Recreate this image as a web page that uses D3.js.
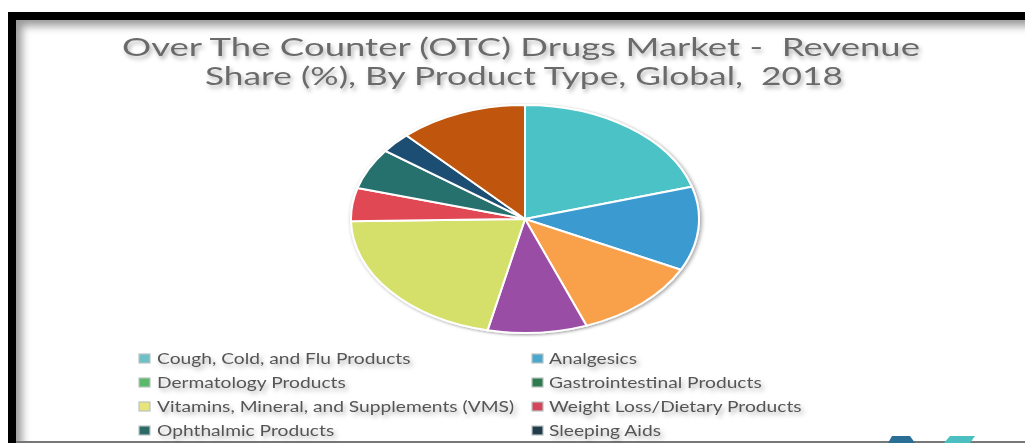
<!DOCTYPE html>
<html><head><meta charset="utf-8">
<script src="https://cdn.jsdelivr.net/npm/d3@7"></script>
<style>
html,body{margin:0;padding:0;background:#fff;}
svg{display:block;}
text{white-space:pre;}
</style></head>
<body>
<script>
const titleLines = ["Over The Counter (OTC) Drugs Market -  Revenue", "Share (%), By Product Type, Global,  2018"];
const categories = ["Cough, Cold, and Flu Products","Analgesics","Dermatology Products","Gastrointestinal Products","Vitamins, Mineral, and Supplements (VMS)","Weight Loss/Dietary Products","Ophthalmic Products","Sleeping Aids","Others"];
const shares = [20.4, 11.9, 11.9, 9.2, 21.2, 4.7, 5.8, 2.9, 11.9];
const colors = ["#4cc2c6","#3b9bd0","#f9a04c","#9a4ea4","#d5e06a","#e04a52","#27706e","#1f4e72","#c0560b"];
const legendItems = ["Cough, Cold, and Flu Products","Analgesics","Dermatology Products","Gastrointestinal Products","Vitamins, Mineral, and Supplements (VMS)","Weight Loss/Dietary Products","Ophthalmic Products","Sleeping Aids"];
const legendColors = ["#6fbfc9","#4aa8cf","#5cb86a","#2f7a4f","#e6e47a","#d6465a","#2c6a66","#233c4c"];

const W = 1025, H = 443;
const svg = d3.select("body").append("svg").attr("width", W).attr("height", H);
const defs = svg.append("defs");
const sh = defs.append("filter").attr("id","tshadow").attr("x","-10%").attr("y","-30%").attr("width","120%").attr("height","180%");
sh.append("feDropShadow").attr("dx",2).attr("dy",3).attr("stdDeviation",2.2).attr("flood-color","#000").attr("flood-opacity",0.3);
const ps = defs.append("filter").attr("id","pshadow").attr("x","-10%").attr("y","-10%").attr("width","120%").attr("height","120%");
ps.append("feDropShadow").attr("dx",1).attr("dy",1).attr("stdDeviation",1.5).attr("flood-color","#000").attr("flood-opacity",0.4);
const blur = defs.append("filter").attr("id","blur").attr("x","-20%").attr("y","-20%").attr("width","140%").attr("height","140%");
blur.append("feGaussianBlur").attr("stdDeviation",4);

// frame
svg.append("rect").attr("x",8).attr("y",12).attr("width",W).attr("height",H).attr("fill","#000");
svg.append("rect").attr("x",16).attr("y",20).attr("width",W).attr("height",H).attr("fill","#9a9a9a");
const clip = defs.append("clipPath").attr("id","inner");
clip.append("rect").attr("x",16).attr("y",20).attr("width",W).attr("height",H);
svg.append("rect").attr("x",22).attr("y",26).attr("width",W).attr("height",H).attr("fill","#fff").attr("filter","url(#blur)").attr("clip-path","url(#inner)");
svg.append("line").attr("x1",16).attr("x2",W).attr("y1",442).attr("y2",442).attr("stroke","#777").attr("stroke-width",2);

// title
const title = svg.append("g").attr("filter","url(#tshadow)");
const titleX = [[122,920],[205,843]];
const titleY = [56, 85];
titleLines.forEach((t,i)=>{
  title.append("text").attr("x", titleX[i][0]).attr("y", titleY[i])
    .attr("textLength", titleX[i][1]-titleX[i][0]).attr("lengthAdjust","spacingAndGlyphs")
    .attr("font-family","Lato, 'Open Sans', sans-serif").attr("font-weight",400)
    .attr("font-size",25).attr("fill","#6a6a6a").text(t);
});

// pie (ellipse)
const cx = 525, cy = 219, rx = 174, ry = 114;
const pie = d3.pie().sort(null).value(d=>d)(shares);
const arc = d3.arc().innerRadius(0).outerRadius(ry);
const pg = svg.append("g").attr("transform", `translate(${cx},${cy}) scale(${rx/ry},1)`).attr("filter","url(#pshadow)");
pg.selectAll("path").data(pie).join("path")
  .attr("d", arc).attr("fill",(d,i)=>colors[i])
  .attr("stroke","#fff").attr("stroke-width",2).attr("vector-effect","non-scaling-stroke");

// legend
const lx = [139, 532], ltx = [157, 549], ly0 = 359, ldy = 24;
const lg = svg.append("g");
legendItems.forEach((name,i)=>{
  const col = i%2, row = Math.floor(i/2);
  const y = ly0 + row*ldy;
  lg.append("rect").attr("x",lx[col]).attr("y",y-5).attr("width",11).attr("height",9)
    .attr("fill",legendColors[i]).attr("stroke","#b9c4c4").attr("stroke-width",1.2);
  lg.append("text").attr("transform",`translate(${ltx[col]},${y}) scale(1.28,1)`).attr("dy","0.36em")
    .attr("font-family","Lato, 'Open Sans', sans-serif").attr("font-size",15).attr("fill","#555")
    .attr("filter","url(#tshadow)").text(name);
});

// logo fragment
svg.append("path").attr("d","M888,443 L892,436 L910,436 L915,443 Z").attr("fill","#2c6f96");
svg.append("path").attr("d","M944,443 L950,436 L975,436 L970,443 Z").attr("fill","#4cc0c0");
</script>
</body></html>
